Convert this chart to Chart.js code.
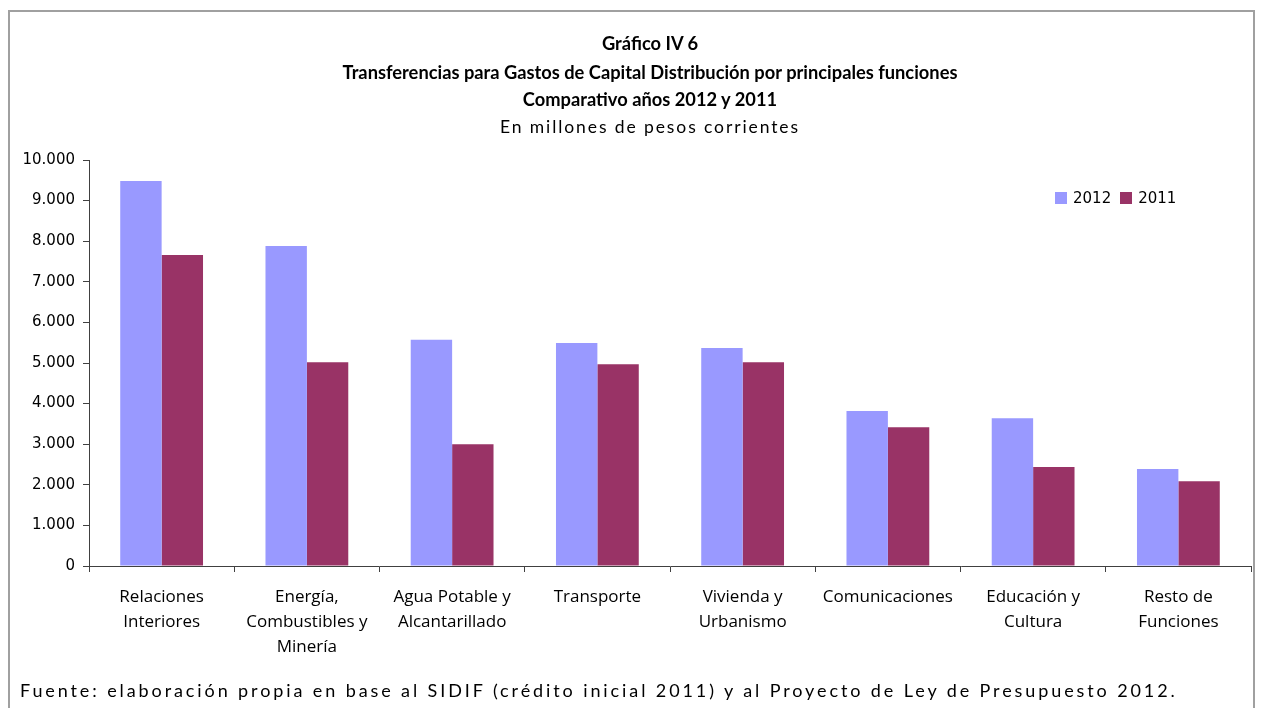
<!DOCTYPE html>
<html lang="es">
<head>
<meta charset="utf-8">
<title>Gráfico IV 6</title>
<script src="https://cdn.jsdelivr.net/npm/chart.js@4.4.1/dist/chart.umd.min.js"></script>
<style>
  body { margin: 0; background: #fff; }
  #wrap { position: relative; width: 1264px; height: 708px; overflow: hidden; }
  #frame { position: absolute; left: 8px; top: 10px; width: 1247px; height: 720px;
           border: 2px solid #a0a0a0; box-sizing: border-box; }
  canvas { position: absolute; left: 0; top: 0; }
  .title { position: absolute; left: 0; width: 1300px; text-align: center;
           font-family: Lato, "Open Sans", sans-serif; font-size: 18.3px; line-height: 20px; color: #000; }
  .b { font-weight: bold; }
  #legend { position: absolute; left: 1055px; top: 188px; font-family: "DejaVu Sans", sans-serif;
            font-size: 15px; line-height: 20px; color: #000; white-space: nowrap; }
  #legend span.sw { display: inline-block; width: 12px; height: 12px; margin-right: 6px; vertical-align: -1px; }
  #legend span.it { margin-right: 9px; }
  #footer { position: absolute; left: 20px; top: 680px; font-family: Lato, "Open Sans", sans-serif;
            font-size: 18px; line-height: 20px; letter-spacing: 2.9px; color: #000; white-space: nowrap; }
</style>
</head>
<body>
<div id="wrap">
  <div id="frame"></div>
  <canvas id="chart" width="1264" height="708"></canvas>
  <div class="title b" style="top:33px">Gráfico IV 6</div>
  <div class="title b" style="top:62px">Transferencias para Gastos de Capital Distribución por principales funciones</div>
  <div class="title b" style="top:89px">Comparativo años 2012 y 2011</div>
  <div class="title" style="top:117px; font-size:17.5px; letter-spacing:1.9px">En millones de pesos corrientes</div>
  <div id="legend"></div>
  <div id="footer">Fuente: elaboración propia en base al SIDIF (crédito inicial 2011) y al Proyecto de Ley de Presupuesto 2012.</div>
</div>
<script>
const categories = [
  ['Relaciones', 'Interiores'],
  ['Energía,', 'Combustibles y', 'Minería'],
  ['Agua Potable y', 'Alcantarillado'],
  'Transporte',
  ['Vivienda y', 'Urbanismo'],
  'Comunicaciones',
  ['Educación y', 'Cultura'],
  ['Resto de', 'Funciones'],
];
const values2012 = [9480, 7880, 5570, 5490, 5370, 3820, 3640, 2390];
const values2011 = [7660, 5020, 3000, 4970, 5020, 3420, 2440, 2090];
const seriesLabels = ['2012', '2011'];
const seriesColors = ['#9999ff', '#993366'];
const yTickLabels = ['0', '1.000', '2.000', '3.000', '4.000', '5.000', '6.000', '7.000', '8.000', '9.000', '10.000'];

const axisColor = '#404040';

// legend as html, top right inside the plot
const legendEl = document.getElementById('legend');
seriesLabels.forEach((label, i) => {
  legendEl.innerHTML += `<span class="sw" style="background:${seriesColors[i]}"></span><span class="it">${label}</span>`;
});

const ctx = document.getElementById('chart').getContext('2d');
new Chart(ctx, {
  type: 'bar',
  data: {
    labels: categories,
    datasets: [
      { label: seriesLabels[0], data: values2012, backgroundColor: seriesColors[0] },
      { label: seriesLabels[1], data: values2011, backgroundColor: seriesColors[1] },
    ],
  },
  options: {
    responsive: false,
    animation: false,
    devicePixelRatio: 1,
    layout: { padding: { top: 160, right: 13, bottom: 0, left: 0 } },
    datasets: { bar: { categoryPercentage: 0.57, barPercentage: 1, borderWidth: 0 } },
    plugins: { legend: { display: false }, tooltip: { enabled: false } },
    scales: {
      x: {
        grid: { drawOnChartArea: false, drawTicks: true, tickLength: 6, color: axisColor, offset: true },
        border: { color: axisColor },
        ticks: {
          color: '#000',
          padding: 13,
          maxRotation: 0,
          autoSkip: false,
          font: { family: '"Open Sans", sans-serif', size: 17, lineHeight: 1.47 },
        },
        afterFit: (scale) => { scale.height = 142; },
      },
      y: {
        min: 0,
        max: 10000,
        grid: { drawOnChartArea: false, drawTicks: true, tickLength: 6, color: axisColor },
        border: { color: axisColor },
        ticks: {
          stepSize: 1000,
          color: '#000',
          padding: 8,
          font: { family: '"DejaVu Sans", sans-serif', size: 15 },
          callback: (value, index) => yTickLabels[index],
        },
        afterFit: (scale) => { scale.width = 89; },
      },
    },
  },
});
</script>
</body>
</html>
